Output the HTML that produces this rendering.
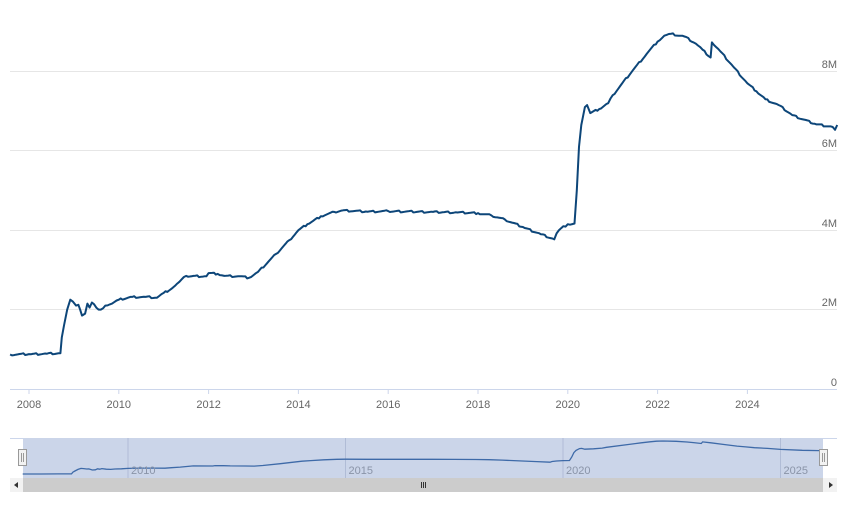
<!DOCTYPE html>
<html><head><meta charset="utf-8"><style>
html,body{margin:0;padding:0;background:#fff;width:859px;height:505px;overflow:hidden}
svg{display:block;font-family:"Liberation Sans",sans-serif}
</style></head><body>
<svg id="s" width="859" height="505" xmlns="http://www.w3.org/2000/svg">
<g stroke="#e6e6e6" stroke-width="1">
<line x1="10" y1="71.5" x2="837" y2="71.5"/>
<line x1="10" y1="150.5" x2="837" y2="150.5"/>
<line x1="10" y1="230.5" x2="837" y2="230.5"/>
<line x1="10" y1="309.5" x2="837" y2="309.5"/>
</g>
<line x1="10" y1="389.5" x2="837" y2="389.5" stroke="#ccd6eb"/>
<g fill="#666" font-size="11" text-anchor="end">
<text x="837" y="68">8M</text><text x="837" y="147">6M</text>
<text x="837" y="227">4M</text><text x="837" y="306">2M</text><text x="837" y="386">0</text>
</g>
<g id="xt" fill="#666" font-size="11" text-anchor="middle"></g>
<path id="main" fill="none" stroke="#0d4679" stroke-width="2" stroke-linejoin="round"/>
<line x1="10" y1="438.5" x2="837" y2="438.5" stroke="#ccd6eb"/>
<rect x="23" y="438" width="800" height="40" fill="#cbd5e9"/>
<g id="ng" stroke="#b0bcd6" stroke-width="1"></g>
<path id="nav" fill="none" stroke="#3e6aa8" stroke-width="1.3"/>
<g fill="#8a94a8" font-size="11" id="nl"></g>
<rect x="18.5" y="449.5" width="8" height="16" fill="#f2f2f2" stroke="#999"/>
<line x1="21.5" y1="453" x2="21.5" y2="462" stroke="#999"/><line x1="23.5" y1="453" x2="23.5" y2="462" stroke="#999"/>
<rect x="819.5" y="449.5" width="8" height="16" fill="#f2f2f2" stroke="#999"/>
<line x1="822.5" y1="453" x2="822.5" y2="462" stroke="#999"/><line x1="824.5" y1="453" x2="824.5" y2="462" stroke="#999"/>
<rect x="10" y="478" width="827" height="14" fill="#f2f2f2"/>
<rect x="23" y="478" width="800" height="14" fill="#cccccc"/>
<path d="M18 482 L14 485 L18 488Z" fill="#333"/>
<path d="M829 482 L833 485 L829 488Z" fill="#333"/>
<g stroke="#333"><line x1="421.5" y1="482" x2="421.5" y2="488"/><line x1="423.5" y1="482" x2="423.5" y2="488"/><line x1="425.5" y1="482" x2="425.5" y2="488"/></g>
</svg>
<script>
var d=[[2007.58,0.87],[2008.0,0.88],[2008.4,0.89],[2008.7,0.9],[2008.73,1.3],[2008.78,1.6],[2008.85,2.0],[2008.92,2.25],[2008.98,2.2],[2009.05,2.1],[2009.1,2.12],[2009.18,1.85],[2009.25,1.9],[2009.3,2.15],[2009.35,2.05],[2009.4,2.18],[2009.5,2.05],[2009.6,2.0],[2009.7,2.1],[2009.85,2.15],[2010.0,2.25],[2010.3,2.32],[2010.6,2.32],[2010.85,2.3],[2011.0,2.42],[2011.2,2.55],[2011.35,2.7],[2011.5,2.85],[2011.95,2.84],[2012.0,2.92],[2012.2,2.9],[2012.35,2.85],[2012.7,2.84],[2012.9,2.8],[2013.1,2.95],[2013.5,3.4],[2013.8,3.75],[2014.0,4.0],[2014.2,4.15],[2014.5,4.35],[2014.8,4.46],[2015.0,4.5],[2015.5,4.47],[2016.0,4.48],[2017.0,4.46],[2017.5,4.45],[2018.0,4.43],[2018.3,4.37],[2018.6,4.27],[2019.0,4.08],[2019.4,3.9],[2019.7,3.77],[2019.75,3.92],[2019.85,4.05],[2020.0,4.15],[2020.15,4.17],[2020.2,5.0],[2020.25,6.1],[2020.3,6.65],[2020.38,7.1],[2020.43,7.15],[2020.5,6.95],[2020.7,7.05],[2020.9,7.2],[2021.0,7.4],[2021.5,8.1],[2021.8,8.5],[2022.0,8.75],[2022.15,8.9],[2022.3,8.95],[2022.6,8.88],[2022.85,8.7],[2023.0,8.55],[2023.18,8.35],[2023.21,8.73],[2023.4,8.5],[2023.7,8.1],[2024.0,7.7],[2024.2,7.5],[2024.4,7.3],[2024.7,7.15],[2025.0,6.9],[2025.5,6.68],[2025.9,6.6],[2025.95,6.53],[2026.0,6.65]];
function X(t){return 29+(t-2008)*44.9}
function Y(v){return 389-v*39.7}
function NX(t){return 128+(t-2010)*43.5}
function NY(v){return 474-(v-0.87)/(8.95-0.87)*33}
var p='',q='',k=0;
for(var i=0;i<d.length;i++){
 var a=d[i];p+=(i?'L':'M')+X(a[0]).toFixed(1)+' '+Y(a[1]).toFixed(1);
 q+=(i?'L':'M')+Math.min(823,NX(a[0])).toFixed(1)+' '+NY(a[1]).toFixed(1);
 if(i<d.length-1){var b=d[i+1];var n=Math.floor((b[0]-a[0])/0.04);
  for(var j=1;j<n;j++){var f=j/n;var t=a[0]+(b[0]-a[0])*f,v=a[1]+(b[1]-a[1])*f+(((k++*7919)%13)/13-0.5)*0.05;
   p+='L'+X(t).toFixed(1)+' '+Y(v).toFixed(1);}}
}
document.getElementById('main').setAttribute('d',p);
document.getElementById('nav').setAttribute('d',q);
var ns='http://www.w3.org/2000/svg',xt=document.getElementById('xt');
for(var y=2008;y<=2024;y+=2){var x=X(y);var l=document.createElementNS(ns,'line');l.setAttribute('x1',x);l.setAttribute('x2',x);l.setAttribute('y1',389);l.setAttribute('y2',394);l.setAttribute('stroke','#ccd6eb');document.getElementById('s').appendChild(l);var t=document.createElementNS(ns,'text');t.setAttribute('x',x);t.setAttribute('y',408);t.textContent=y;xt.appendChild(t);}
[2010,2015,2020,2025].forEach(function(y){var x=NX(y);var l=document.createElementNS(ns,'line');l.setAttribute('x1',x);l.setAttribute('x2',x);l.setAttribute('y1',438);l.setAttribute('y2',478);document.getElementById('ng').appendChild(l);var t=document.createElementNS(ns,'text');t.setAttribute('x',x+3);t.setAttribute('y',474);t.textContent=y;document.getElementById('nl').appendChild(t);});
</script>
</body></html>
